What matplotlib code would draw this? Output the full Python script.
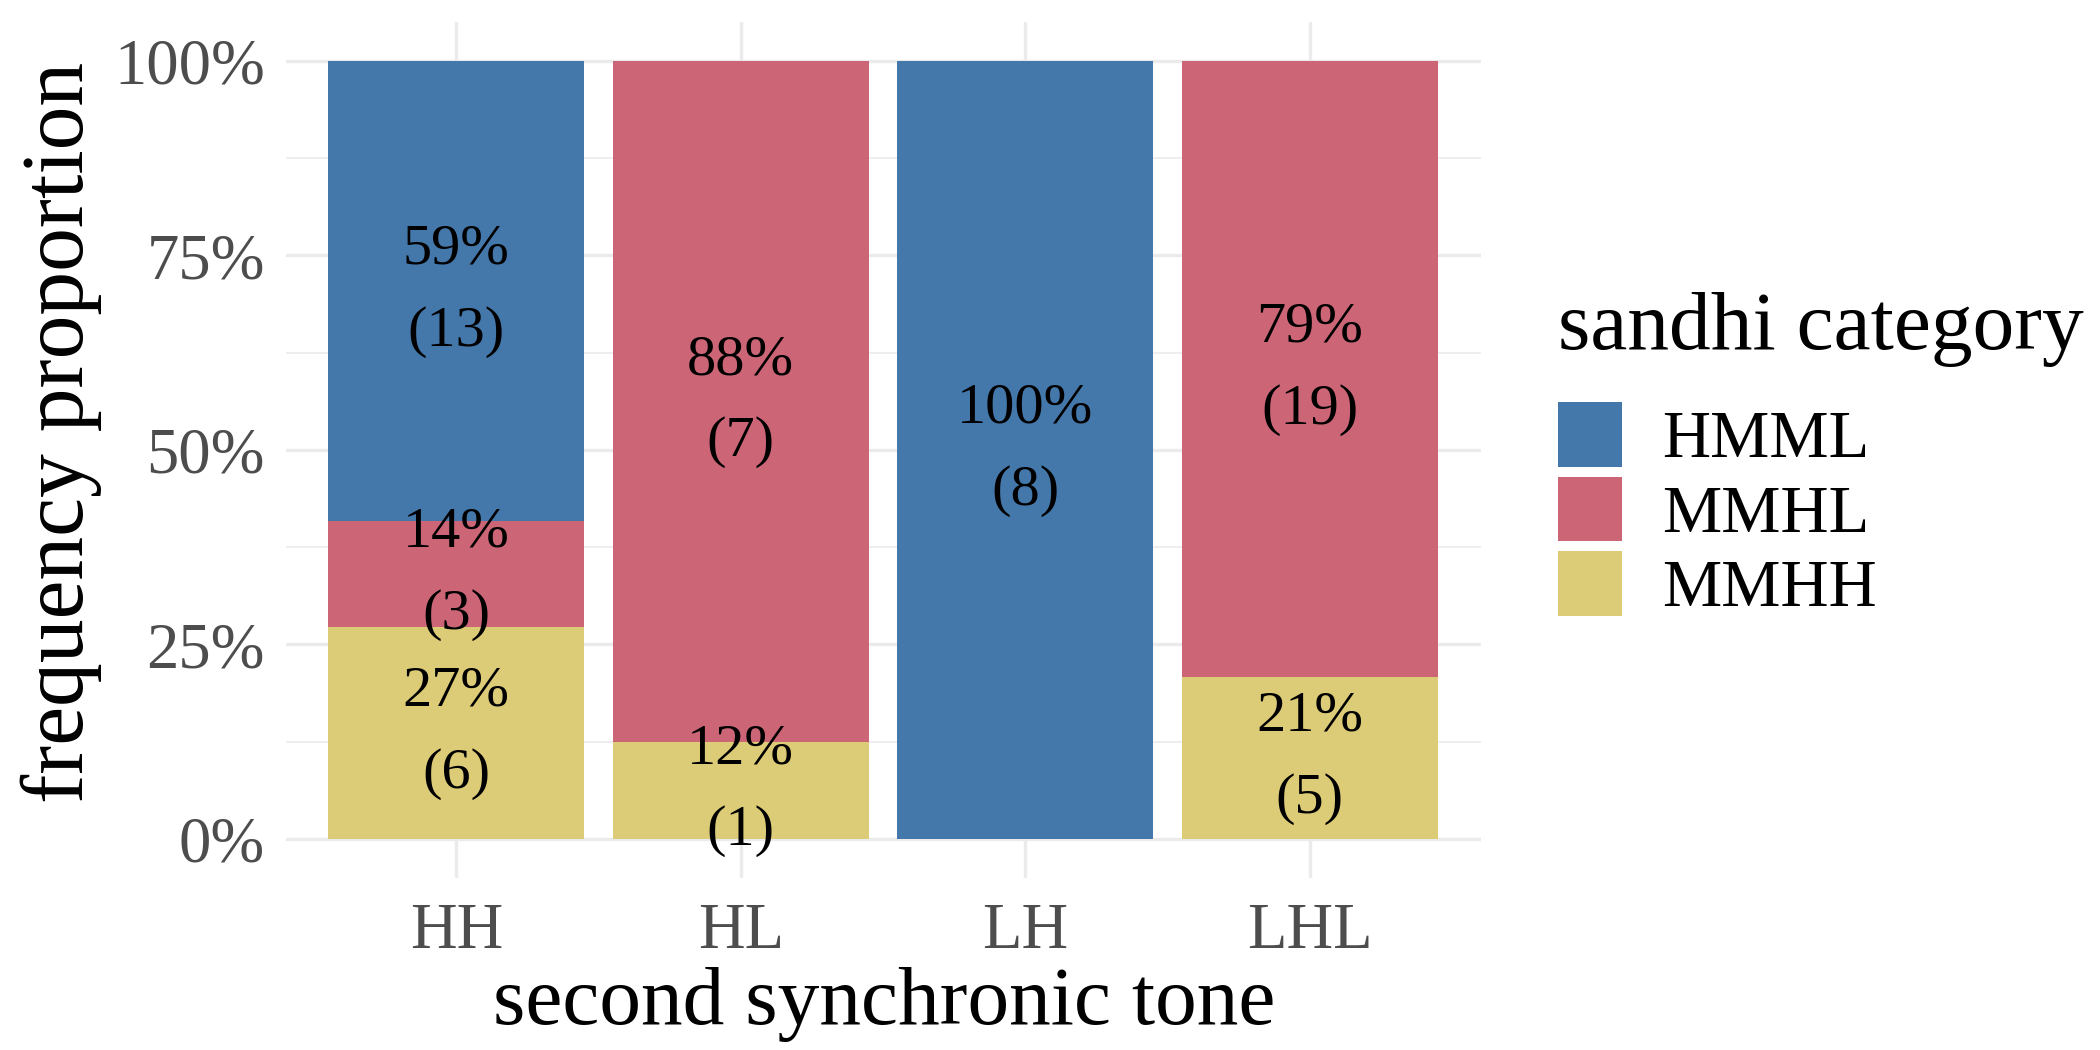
import numpy as np
import matplotlib
matplotlib.use('Agg')
import matplotlib.pyplot as plt
from matplotlib.patches import Patch

# counts
tones = ['HH', 'HL', 'LH', 'LHL']
categories = ['HMML', 'MMHL', 'MMHH']
hmml = [13, 0, 8, 0]
mmhl = [3, 7, 0, 19]
mmhh = [6, 1, 0, 5]
colors = {'HMML': '#4477AA', 'MMHL': '#CC6677', 'MMHH': '#DDCC77'}

plt.rcParams['font.family'] = ['Liberation Serif', 'DejaVu Serif']

counts = {'HMML': np.array(hmml), 'MMHL': np.array(mmhl), 'MMHH': np.array(mmhh)}
totals = counts['HMML'] + counts['MMHL'] + counts['MMHH']

fig = plt.figure(figsize=(7, 3.5), dpi=300)
ax = fig.add_axes([0.136, 0.164, 0.569, 0.815])

x = np.arange(1, len(tones) + 1)
bottom = np.zeros(len(tones))
# stack from bottom: MMHH, MMHL, HMML
for cat in ['MMHH', 'MMHL', 'HMML']:
    prop = counts[cat] / totals
    ax.bar(x, prop, width=0.9, bottom=bottom, color=colors[cat], zorder=2)
    for i in range(len(tones)):
        if counts[cat][i] > 0:
            ax.text(x[i], bottom[i] + prop[i] / 2,
                    f'{round(prop[i] * 100):.0f}%\n({counts[cat][i]})',
                    ha='center', va='center', fontsize=14, linespacing=1.75,
                    color='black', zorder=3)
    bottom = bottom + prop

ax.set_xlim(0.4, 4.6)
ax.set_ylim(-0.05, 1.05)
ax.set_xticks(x)
ax.set_xticklabels(tones)
ax.set_yticks([0, 0.25, 0.5, 0.75, 1.0])
ax.set_yticklabels(['0%', '25%', '50%', '75%', '100%'])
ax.set_yticks([0.125, 0.375, 0.625, 0.875], minor=True)
ax.tick_params(axis='both', which='both', length=0, labelsize=15.5, colors='#4D4D4D')
ax.tick_params(axis='y', pad=5)
ax.tick_params(axis='x', pad=6)
ax.grid(True, which='major', color='#EBEBEB', linewidth=0.8, zorder=0)
ax.grid(True, which='minor', axis='y', color='#EBEBEB', linewidth=0.4, zorder=0)
for s in ax.spines.values():
    s.set_visible(False)

fig.text(0.029, 0.588, 'frequency proportion', rotation=90, ha='center', va='center', fontsize=21)
fig.text(0.421, 0.044, 'second synchronic tone', ha='center', va='center', fontsize=20)

handles = [Patch(facecolor=colors[c], edgecolor='none') for c in categories]
leg = fig.legend(handles, categories, loc='upper left', bbox_to_anchor=(0.729, 0.748),
                 frameon=False, fontsize=16, title='sandhi category', title_fontsize=20,
                 handlelength=0.97, handleheight=1.12, labelspacing=0.08,
                 handletextpad=0.6, borderaxespad=0)
leg._legend_box.align = 'left'
leg._legend_box.sep = 8.5  # gap between title and keys, points

fig.savefig('out.png', dpi=300)
